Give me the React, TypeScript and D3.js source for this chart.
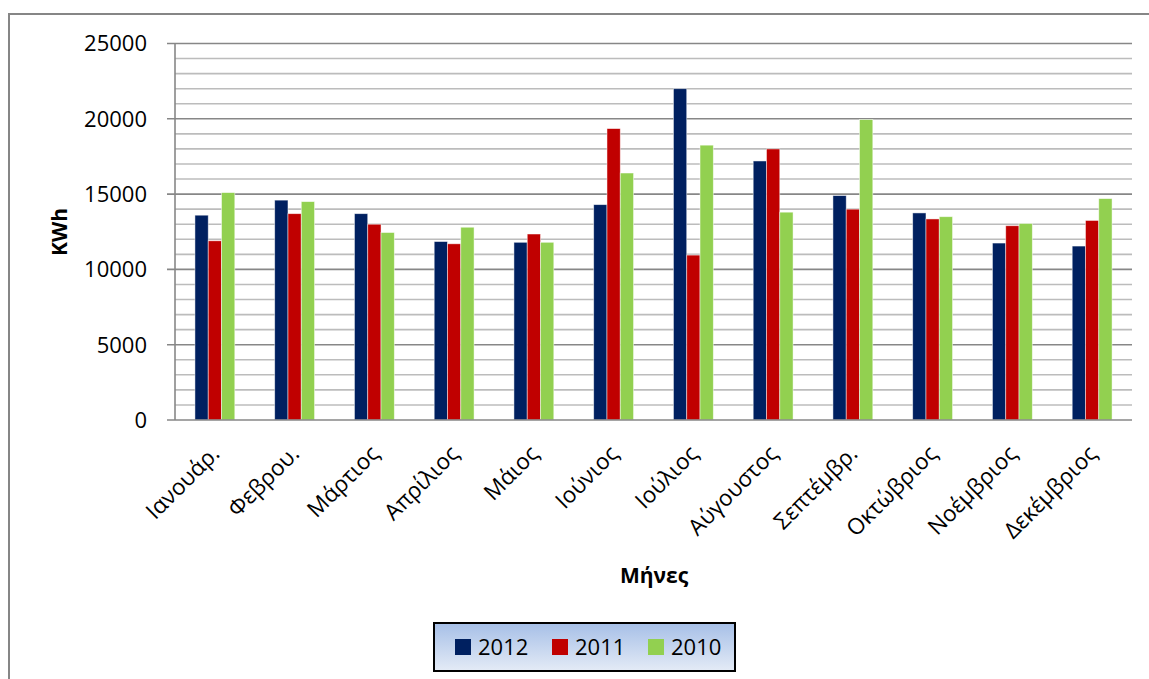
import React from "react";
import * as d3 from "d3";

const months = ["Ιανουάρ.", "Φεβρου.", "Μάρτιος", "Απρίλιος", "Μάιος", "Ιούνιος", "Ιούλιος", "Αύγουστος", "Σεπτέμβρ.", "Οκτώβριος", "Νοέμβριος", "Δεκέμβριος"];
const seriesNames = ["2012", "2011", "2010"];
const values2012 = [13600, 14600, 13700, 11850, 11800, 14300, 22000, 17200, 14900, 13750, 11750, 11550];
const values2011 = [11900, 13700, 13000, 11700, 12350, 19350, 10950, 18000, 14000, 13350, 12900, 13250];
const values2010 = [15100, 14500, 12450, 12800, 11800, 16400, 18250, 13800, 19950, 13500, 13050, 14700];
const seriesColors = ["#002060", "#C00000", "#92D050"];
const yTicks = [0, 5000, 10000, 15000, 20000, 25000];
const yAxisTitle = "KWh";
const xAxisTitle = "Μήνες";

const W = 1149;
const H = 679;
const FONT = "'Open Sans', 'Noto Sans', sans-serif";

export default function App() {
  const left = 175, right = 1132, top = 43.5, bottom = 420;
  const series = [values2012, values2011, values2010];
  const y = d3.scaleLinear().domain([0, 25000]).range([bottom, top]);
  const x = d3.scaleBand<string>().domain(months).range([left, right]).paddingInner(0.5).paddingOuter(0.25);
  const xs = d3.scaleBand<string>().domain(seriesNames).range([0, x.bandwidth()]);
  const minor = d3.range(0, 25001, 1000).filter((v) => v % 5000 !== 0);

  return (
    <svg width={W} height={H} style={{ position: "absolute", left: 0, top: 0, background: "#fff" }} fontFamily={FONT}>
      <defs>
        <linearGradient id="lg" x1="0" y1="0" x2="0" y2="1">
          <stop offset="0" stopColor="#a6bfe7" />
          <stop offset="1" stopColor="#e4ebf6" />
        </linearGradient>
      </defs>
      {/* outer border */}
      <path d={`M9,${H + 2} V14 H${W + 2}`} fill="none" stroke="#868686" strokeWidth={2} />
      {/* gridlines */}
      {minor.map((v) => (
        <line key={"m" + v} x1={left} x2={right} y1={y(v)} y2={y(v)} stroke="#bcbcbc" strokeWidth={1.6} />
      ))}
      {yTicks.filter((v) => v > 0).map((v) => (
        <line key={"g" + v} x1={left - 8} x2={right} y1={y(v)} y2={y(v)} stroke="#878787" strokeWidth={1.6} />
      ))}
      {/* bars */}
      {series.map((vals, si) =>
        vals.map((v, i) => (
          <rect
            key={si + "-" + i}
            x={(x(months[i]) as number) + (xs(seriesNames[si]) as number)}
            y={y(v)}
            width={xs.bandwidth()}
            height={bottom - y(v)}
            fill={seriesColors[si]}
            stroke="#ffffff"
            strokeOpacity={0.6}
            strokeWidth={0.8}
          />
        ))
      )}
      {/* axes */}
      <line x1={left} x2={left} y1={top} y2={bottom} stroke="#878787" strokeWidth={1.6} />
      <line x1={left - 8} x2={right} y1={bottom} y2={bottom} stroke="#878787" strokeWidth={1.6} />
      {/* y tick labels */}
      {yTicks.map((v) => (
        <text key={"t" + v} x={147} y={y(v)} dy="0.36em" textAnchor="end" fontSize={22} fill="#000">
          {v}
        </text>
      ))}
      {/* x tick labels */}
      {months.map((m) => {
        const cx = (x(m) as number) + x.bandwidth() / 2 + 6;
        const cy = 455;
        return (
          <text key={m} x={cx} y={cy} textAnchor="end" fontSize={22.5} fill="#000" transform={`rotate(-45 ${cx} ${cy})`}>
            {m}
          </text>
        );
      })}
      {/* axis titles */}
      <text x={0} y={0} transform={`translate(67 232) rotate(-90)`} textAnchor="middle" fontSize={21} fontWeight="bold">
        {yAxisTitle}
      </text>
      <text x={654} y={583} textAnchor="middle" fontSize={21} fontWeight="bold">
        {xAxisTitle}
      </text>
      {/* legend */}
      <rect x={434} y={623} width={301} height={48} fill="url(#lg)" stroke="#000" strokeWidth={2} />
      {seriesNames.map((s, i) => {
        const lx = [455, 552, 648][i];
        return (
          <g key={s}>
            <rect x={lx} y={639} width={16} height={16} fill={seriesColors[i]} />
            <text x={lx + 23} y={647} dy="0.36em" fontSize={22} fill="#000">
              {s}
            </text>
          </g>
        );
      })}
    </svg>
  );
}
